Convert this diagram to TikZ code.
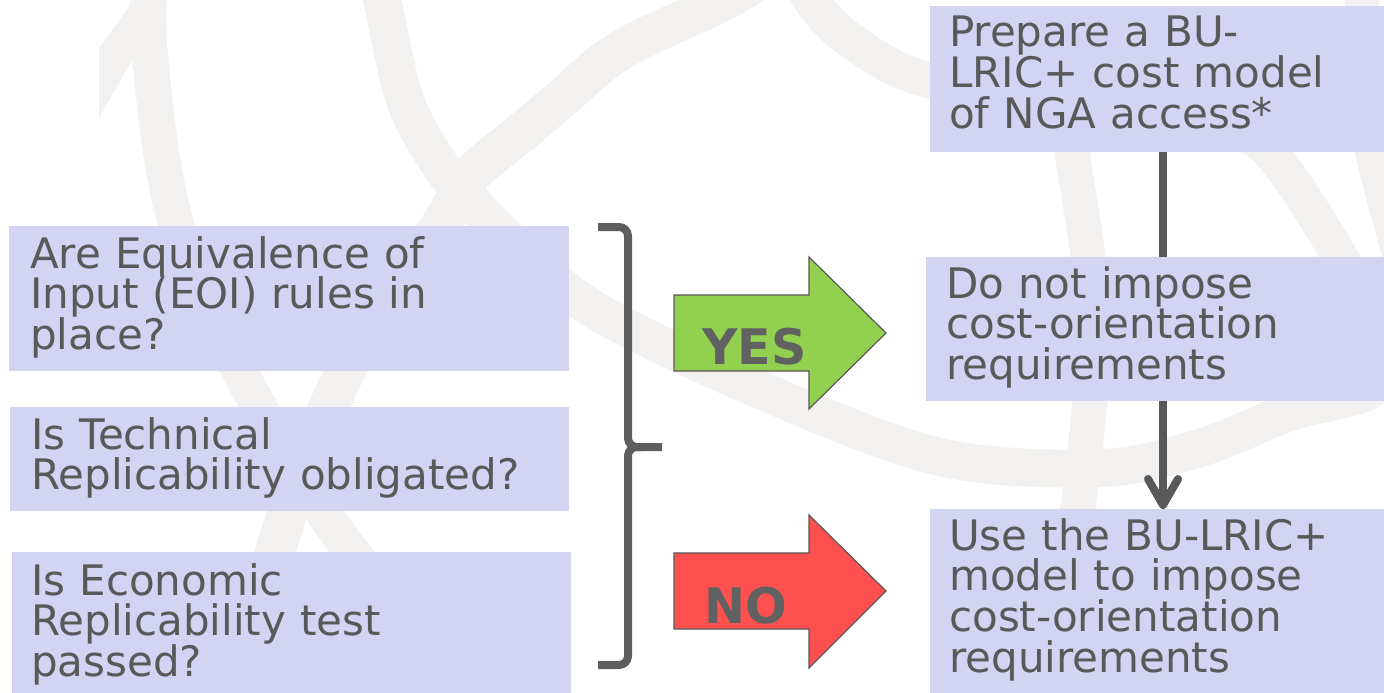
\documentclass[tikz,border=0pt]{standalone}
\usepackage{fontspec}
\setmainfont{DejaVu Sans}
\usetikzlibrary{arrows.meta}
\definecolor{boxfill}{RGB}{211,211,243}
\definecolor{ink}{RGB}{89,89,89}
\definecolor{braceink}{RGB}{94,94,94}
\definecolor{wm}{RGB}{242,241,239}
\definecolor{yesgreen}{RGB}{146,208,80}
\definecolor{nored}{RGB}{255,80,80}
\begin{document}
\begin{tikzpicture}[x=1pt,y=-1pt,
  box/.style={fill=boxfill, draw=none, inner sep=0pt, anchor=north west},
  txt/.style={text=ink, font=\fontsize{42}{40.8}\selectfont, align=left,
    inner sep=0pt, anchor=base west, text width=#1},
  txt/.default=520pt,
  band/.style={draw=wm, line width=#1, line cap=butt, line join=round},
  band/.default=38pt,
  bigarrow/.style={draw=ink, line width=1.2pt, line join=miter},
  answer/.style={text=ink!95!white, font=\bfseries\fontsize{49}{49}\selectfont,
    inner sep=0pt, anchor=base west},
  brace/.style={draw=braceink, line width=8pt, rounded corners=9pt},
  conn/.style={draw=ink, line width=8pt}
]
\useasboundingbox (0,0) rectangle (1384,693);

% faint globe watermark
\begin{scope}
  \clip (0,0) rectangle (1384,693);
  \path[band=36pt] plot[smooth, tension=0.6] coordinates
    {(150,-30) (150,55) (175,220) (240,372) (352,552) (470,660) (600,730)};
  \fill[wm] (99,118) -- (99,48) -- (134,0) -- (150,0) -- (135,55) -- cycle;
  \path[band=40pt] plot[smooth, tension=0.55] coordinates
    {(790,-40) (725,0) (621,50) (560,100) (521,133) (470,176) (440,226)
     (345,372) (275,552) (240,720)};
  \path[band=38pt] plot[smooth, tension=0.55] coordinates
    {(372,-30) (382,0) (405,100) (440,165) (470,200) (520,250) (598,312)
     (760,390) (940,457) (1100,468) (1200,448) (1290,412) (1370,390)
     (1420,340)};
  \path[band=36pt] plot[smooth, tension=0.55] coordinates
    {(800,-30) (811,0) (850,40) (927,80) (1100,112) (1220,130) (1270,152)
     (1340,257) (1380,340)};
  \path[band=34pt] plot[smooth, tension=0.55] coordinates
    {(1360,-20) (1370,100) (1372,152) (1400,257)};
  \path[band=35pt] plot[smooth, tension=0.6] coordinates
    {(1066,100) (1072,152) (1088,257) (1092,330) (1090,401) (1078,507)
     (1070,560)};
\end{scope}

% question boxes
\node[box, minimum width=560pt, minimum height=145pt] (qa) at (9,226) {};
\node[box, minimum width=559pt, minimum height=104pt] (qb) at (10,407) {};
\node[box, minimum width=559pt, minimum height=141pt] (qc) at (12,552) {};
\node[txt] (ta) at (30,268) {Are Equivalence of\\Input (EOI) rules in\\place?};
\node[txt] (tb) at (31,449) {Is Technical\\Replicability obligated?};
\node[txt] (tc) at (31,595) {Is Economic\\Replicability test\\passed?};

% outcome boxes
\node[box, minimum width=454pt, minimum height=146pt] (pd) at (930,6) {};
\node[box, minimum width=458pt, minimum height=144pt] (pe) at (926,257) {};
\node[box, minimum width=454pt, minimum height=184pt] (pf) at (930,509) {};
\node[txt=430pt] (td) at (949,47) {Prepare a BU-\\LRIC+ cost model\\of NGA access*};
\node[txt=430pt] (te) at (946,298) {Do not impose\\cost-orientation\\requirements};
\node[txt=430pt] (tf) at (949,550) {Use the BU-LRIC+\\model to impose\\cost-orientation\\requirements};

% brace grouping the three questions
\draw[brace] (598,227) -- (628,227) -- (628,447) -- (662,447);
\draw[brace] (598,665) -- (628,665) -- (628,447) -- (645,447);

% YES / NO block arrows
\path[bigarrow, fill=yesgreen] (674,295) -- (809,295) -- (809,257) -- (886,333)
  -- (809,409) -- (809,371) -- (674,371) -- cycle;
\node[answer] (yes) at (702,364) {YES};
\path[bigarrow, fill=nored] (674,553) -- (809,553) -- (809,515) -- (886,591)
  -- (809,668) -- (809,629) -- (674,629) -- cycle;
\node[answer] (no) at (704,623) {NO};

% connectors between outcome boxes
\coordinate (col) at (1163,0);
\draw[conn] (pd.south -| col) -- (pe.north -| col);
\draw[conn, -{Straight Barb[length=26pt,width=30pt,line cap=round,line join=round]}]
  (pe.south -| col) -- (pf.north -| col);
\end{tikzpicture}
\end{document}
